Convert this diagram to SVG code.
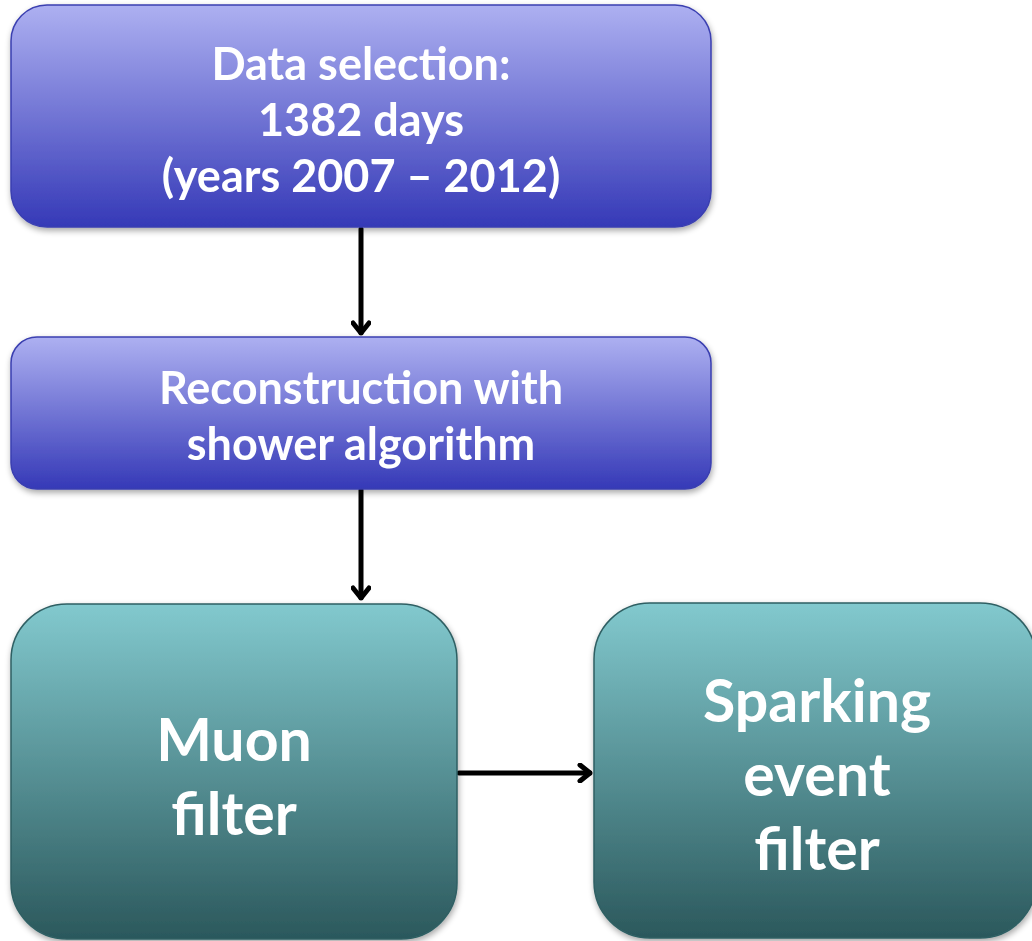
<svg xmlns="http://www.w3.org/2000/svg" width="1032" height="941" viewBox="0 0 1032 941">
<style>
.t{font-family:Lato,"Open Sans","Liberation Sans",sans-serif;font-weight:700;fill:#fff;text-anchor:middle}
.s{font-size:45px}
.b{font-size:59px}
.c{stroke:#000;stroke-width:5;fill:none;stroke-linecap:round;stroke-linejoin:round}
</style>
<defs>
<linearGradient id="gb" x1="0" y1="0" x2="0" y2="1">
<stop offset="0" stop-color="#adb0f1"/>
<stop offset="1" stop-color="#3539b7"/>
</linearGradient>
<linearGradient id="gt" x1="0" y1="0" x2="0" y2="1">
<stop offset="0" stop-color="#82c9ce"/>
<stop offset="1" stop-color="#2b585c"/>
</linearGradient>
<filter id="sh" x="-10%" y="-10%" width="120%" height="130%">
<feGaussianBlur in="SourceAlpha" stdDeviation="3"/>
<feOffset dx="1" dy="3" result="o"/>
<feComponentTransfer><feFuncA type="linear" slope="0.35"/></feComponentTransfer>
<feMerge><feMergeNode/><feMergeNode in="SourceGraphic"/></feMerge>
</filter>
<marker id="ah" viewBox="0 0 20 20" refX="18" refY="10" markerWidth="20" markerHeight="20" markerUnits="userSpaceOnUse" orient="auto">
<path d="M8,2 L18,10 L8,18" fill="none" stroke="#000" stroke-width="5" stroke-linecap="round" stroke-linejoin="round"/>
</marker>
</defs>
<rect width="1032" height="941" fill="#fff"/>
<g id="connectors">
<line class="c" x1="361" y1="229" x2="361" y2="333" marker-end="url(#ah)"/>
<line class="c" x1="361" y1="490" x2="361" y2="598" marker-end="url(#ah)"/>
<line class="c" x1="459" y1="773" x2="590" y2="773" marker-end="url(#ah)"/>
</g>
<g id="n1" filter="url(#sh)">
<rect x="11" y="5" width="700" height="222" rx="36" fill="url(#gb)" stroke="#3a3fb0" stroke-width="1.5"/>
<text class="t s" x="361" y="80">Data selection:</text>
<text class="t s" x="361" y="136">1382 days</text>
<text class="t s" x="361" y="192">(years 2007 – 2012)</text>
</g>
<g id="n2" filter="url(#sh)">
<rect x="11" y="337" width="700" height="152" rx="26" fill="url(#gb)" stroke="#3a3fb0" stroke-width="1.5"/>
<text class="t s" x="361" y="404">Reconstruction with</text>
<text class="t s" x="361" y="460">shower algorithm</text>
</g>
<g id="n3" filter="url(#sh)">
<rect x="11" y="604" width="446" height="335" rx="56" fill="url(#gt)" stroke="#2f5f63" stroke-width="1.5"/>
<text class="t b" x="234" y="761">Muon</text>
<text class="t b" x="234" y="835">filter</text>
</g>
<g id="n4" filter="url(#sh)">
<rect x="594" y="603" width="442" height="335" rx="56" fill="url(#gt)" stroke="#2f5f63" stroke-width="1.5"/>
<text class="t b" x="817" y="722">Sparking</text>
<text class="t b" x="817" y="796">event</text>
<text class="t b" x="817" y="870">filter</text>
</g>
</svg>
